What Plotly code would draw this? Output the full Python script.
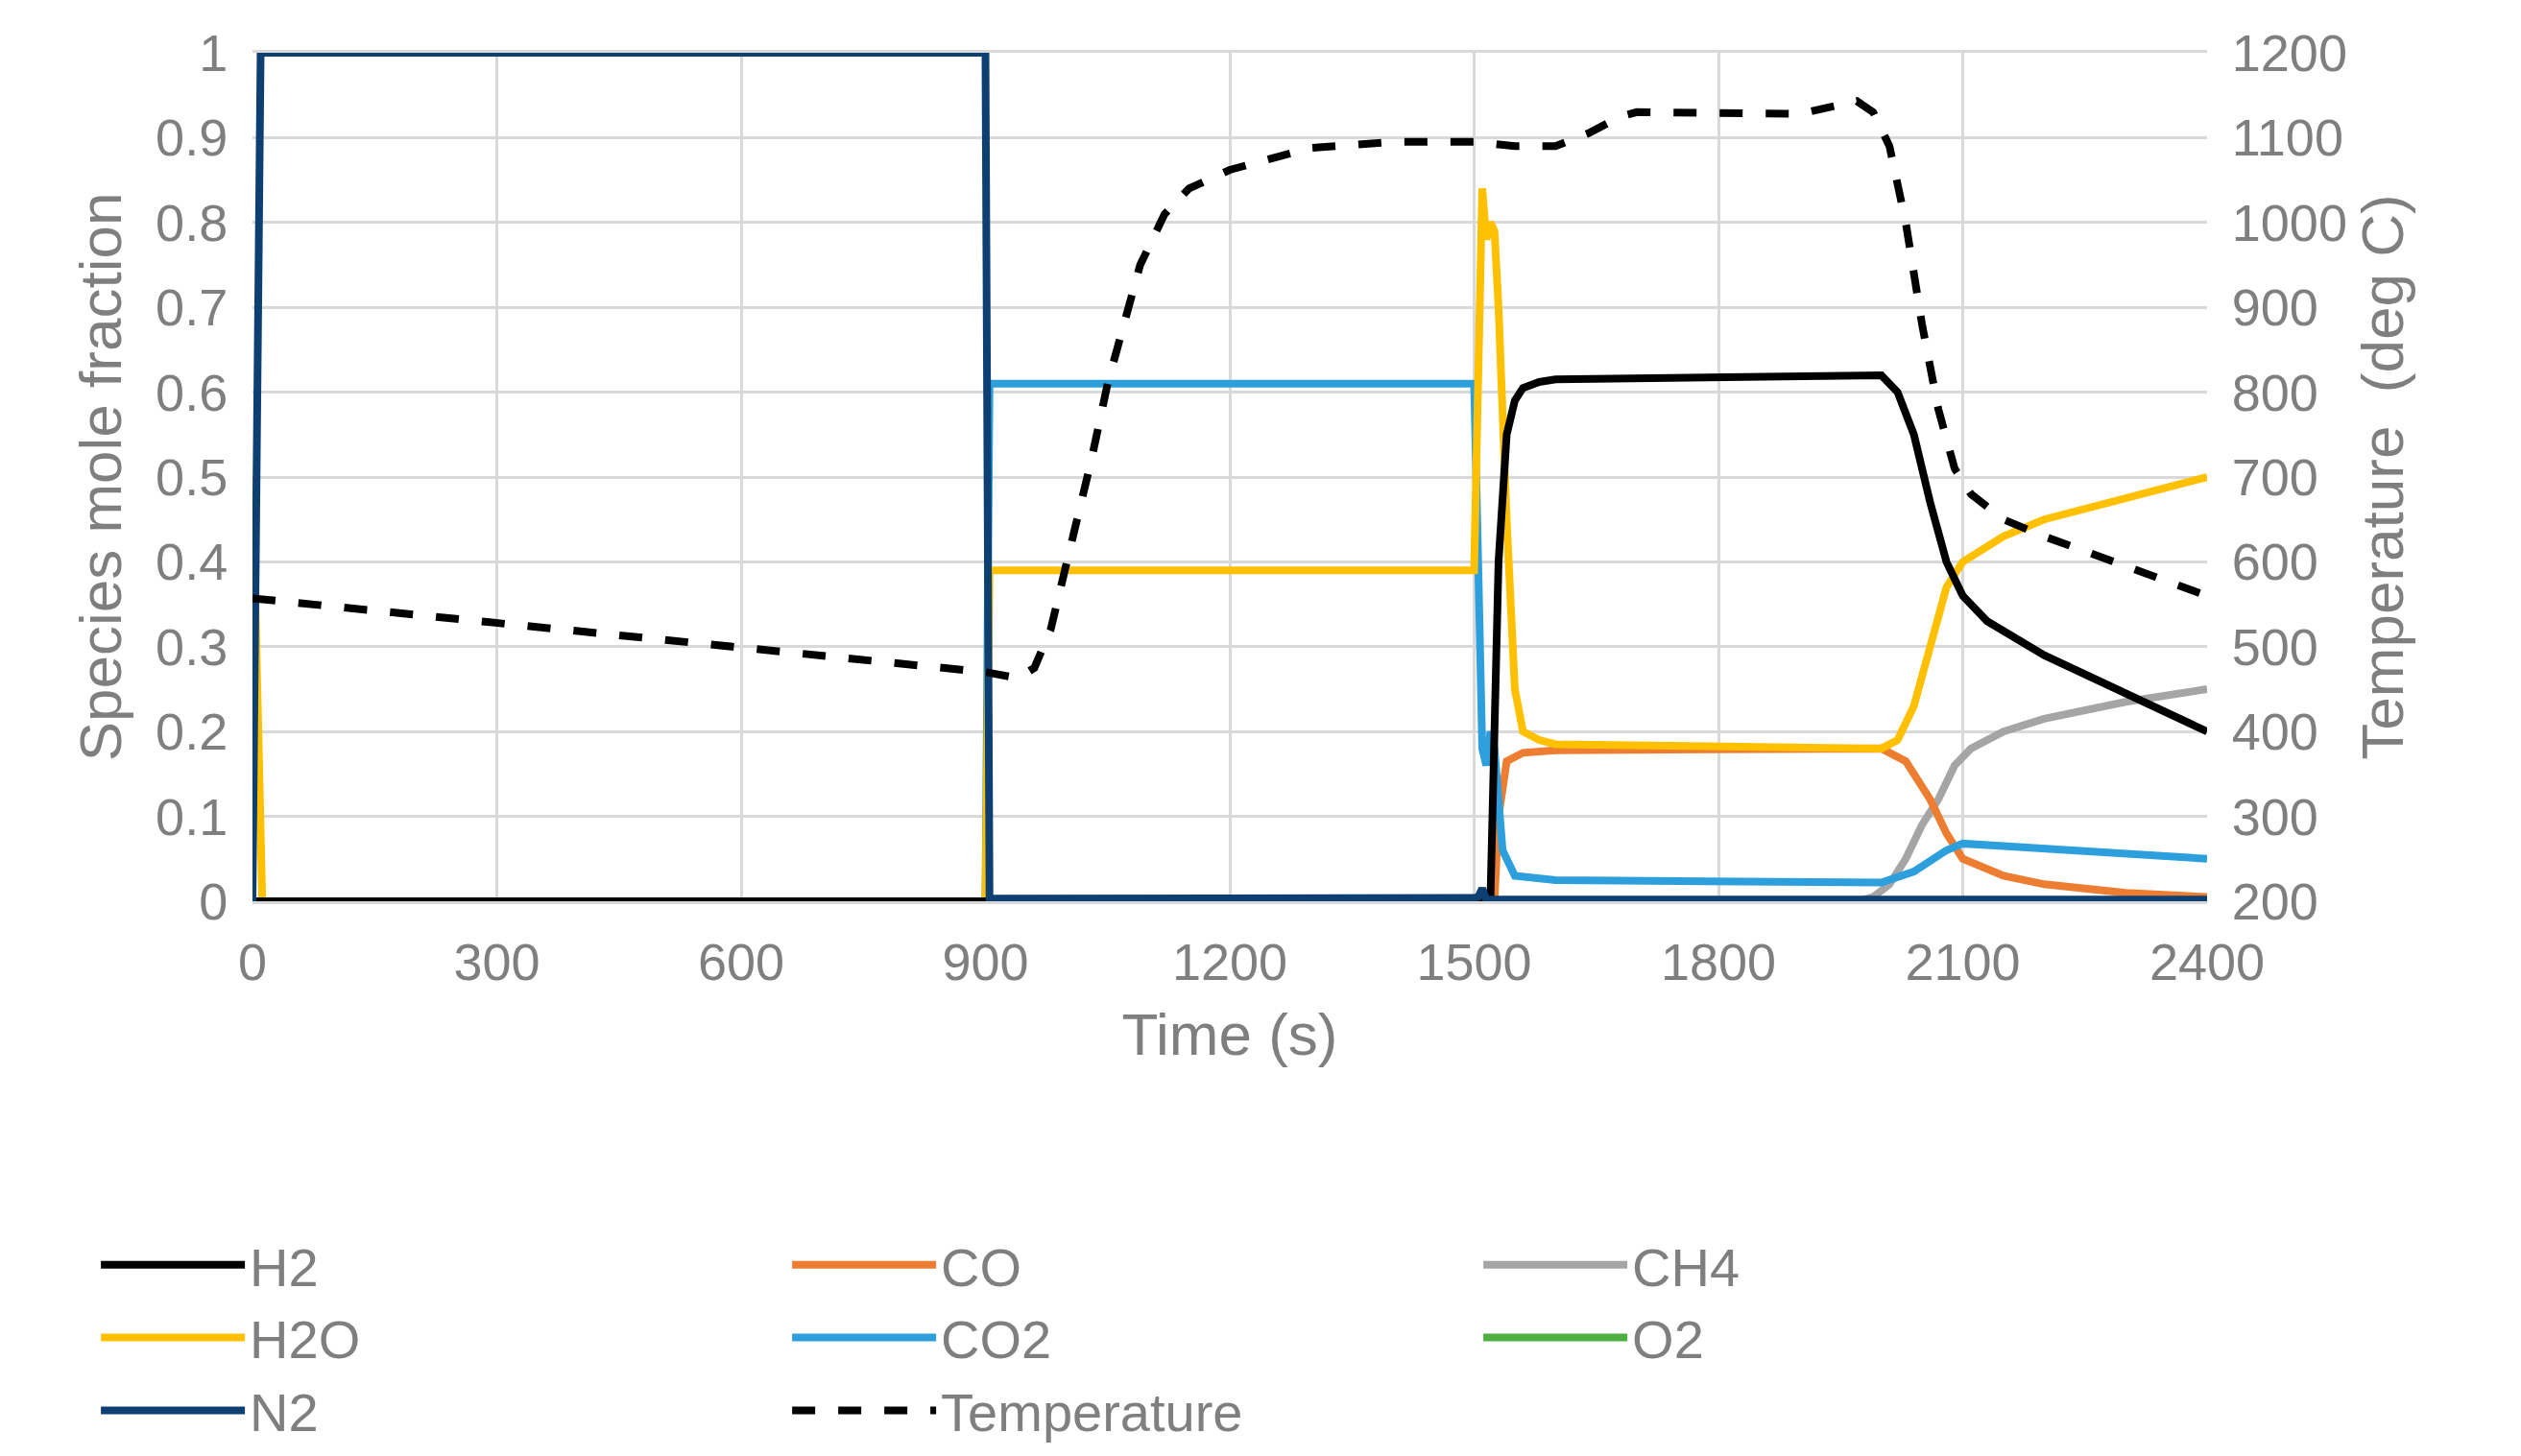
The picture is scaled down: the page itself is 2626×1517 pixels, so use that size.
import plotly.graph_objects as go

t_n2 = [0, 10, 900, 905, 1500, 1505, 1510, 1515, 2400]
n2 = [0, 1, 1, 0.003, 0.004, 0.005, 0.015, 0.002, 0.002]
t_o2 = [0, 900, 1500]
o2 = [0, 0, 0]
t_h2o = [0, 5, 12, 900, 905, 1500, 1505, 1510, 1515, 1520, 1525, 1530, 1540, 1550, 1560, 1580, 1600, 2000, 2020, 2040, 2060, 2080, 2100, 2150, 2200, 2300, 2400]
h2o = [0.5, 0.3, 0, 0, 0.39, 0.39, 0.6, 0.84, 0.78, 0.8, 0.79, 0.7, 0.45, 0.25, 0.2, 0.19, 0.185, 0.18, 0.19, 0.23, 0.3, 0.37, 0.4, 0.43, 0.45, 0.475, 0.5]
t_co2 = [0, 900, 905, 1500, 1505, 1510, 1515, 1520, 1525, 1535, 1550, 1600, 2000, 2040, 2080, 2100, 2150, 2400]
co2 = [0, 0, 0.61, 0.61, 0.4, 0.18, 0.16, 0.2, 0.18, 0.06, 0.03, 0.025, 0.022, 0.035, 0.06, 0.068, 0.065, 0.05]
t_h2 = [0, 1520, 1525, 1530, 1540, 1550, 1560, 1580, 1600, 2000, 2020, 2040, 2060, 2080, 2100, 2130, 2200, 2300, 2400]
h2 = [0, 0, 0.2, 0.4, 0.55, 0.59, 0.605, 0.612, 0.615, 0.62, 0.6, 0.55, 0.47, 0.4, 0.36, 0.33, 0.29, 0.245, 0.2]
t_co = [0, 1525, 1530, 1540, 1560, 1600, 2000, 2030, 2060, 2080, 2100, 2150, 2200, 2300, 2400]
co = [0, 0, 0.1, 0.165, 0.175, 0.178, 0.18, 0.165, 0.12, 0.08, 0.05, 0.03, 0.02, 0.01, 0.005]
t_ch4 = [0, 1970, 1990, 2010, 2030, 2050, 2070, 2090, 2110, 2150, 2200, 2300, 2400]
ch4 = [0, 0, 0.005, 0.02, 0.05, 0.09, 0.12, 0.16, 0.18, 0.2, 0.215, 0.235, 0.25]
t_temp = [0, 900, 940, 960, 980, 1000, 1030, 1050, 1070, 1090, 1120, 1150, 1200, 1250, 1300, 1400, 1500, 1550, 1600, 1640, 1680, 1700, 1800, 1900, 1970, 1990, 2010, 2030, 2050, 2070, 2090, 2110, 2150, 2200, 2300, 2400]
temp = [557, 470, 463, 475, 520, 600, 720, 810, 880, 950, 1010, 1040, 1062, 1075, 1088, 1095, 1095, 1090, 1090, 1105, 1125, 1130, 1130, 1128, 1143, 1130, 1090, 1000, 880, 780, 710, 680, 650, 630, 595, 560]

fig = go.Figure()
W = 8
def add(x, y, name, color, dash="solid", yaxis="y"):
    fig.add_trace(go.Scatter(x=x, y=y, name=name, mode="lines", yaxis=yaxis,
                             line=dict(color=color, width=W, dash=dash)))

add(t_o2, o2, "O2", "#4caf3f")
add(t_ch4, ch4, "CH4", "#a5a5a5")
add(t_co, co, "CO", "#ed7d31")
add(t_co2, co2, "CO2", "#2e9fdd")
add(t_h2o, h2o, "H2O", "#ffc000")
add(t_h2, h2, "H2", "#000000")
add(t_n2, n2, "N2", "#0e3f73")
add(t_temp, temp, "Temperature", "#000000", dash="dash", yaxis="y2")

order = ["H2", "CO", "CH4", "H2O", "CO2", "O2", "N2", "Temperature"]
for tr in fig.data:
    tr.legendrank = order.index(tr.name)

grid = "#d9d9d9"
tf = dict(family="Liberation Sans, Arial", size=54, color="#7f7f7f")
tick_pad = dict(ticks="outside", ticklen=14, tickcolor="rgba(0,0,0,0)")
fig.update_layout(
    width=2626, height=1517, plot_bgcolor="white", paper_bgcolor="white",
    margin=dict(l=255, r=335, t=47, b=546),
    font=tf,
    xaxis=dict(range=[0, 2400], tickvals=list(range(0, 2401, 300)), showgrid=True,
               gridcolor=grid, gridwidth=3, zeroline=False, showline=True, linecolor=grid, linewidth=3,
               mirror=True, title=dict(text="Time (s)", font=dict(size=62, color="#7f7f7f"), standoff=25),
               **tick_pad),
    yaxis=dict(range=[0, 1], tickvals=[i / 10 for i in range(11)],
               ticktext=["0"] + ["0.%d" % i for i in range(1, 10)] + ["1"],
               showgrid=True, gridcolor=grid, gridwidth=3, zeroline=False,
               title=dict(text="Species mole fraction", font=dict(size=62, color="#7f7f7f"), standoff=15),
               **tick_pad),
    yaxis2=dict(range=[200, 1200], tickvals=list(range(200, 1201, 100)), overlaying="y", side="right",
                showgrid=False, zeroline=False,
                title=dict(text="Temperature  (deg C)", font=dict(size=62, color="#7f7f7f"), standoff=15),
                **tick_pad),
    legend=dict(orientation="h", x=-0.08, xanchor="left", y=-0.38, yanchor="top",
                entrywidth=555, itemwidth=150, traceorder="normal", tracegroupgap=0,
                font=dict(size=56, color="#7f7f7f")),
)
fig.write_html("out.html")
